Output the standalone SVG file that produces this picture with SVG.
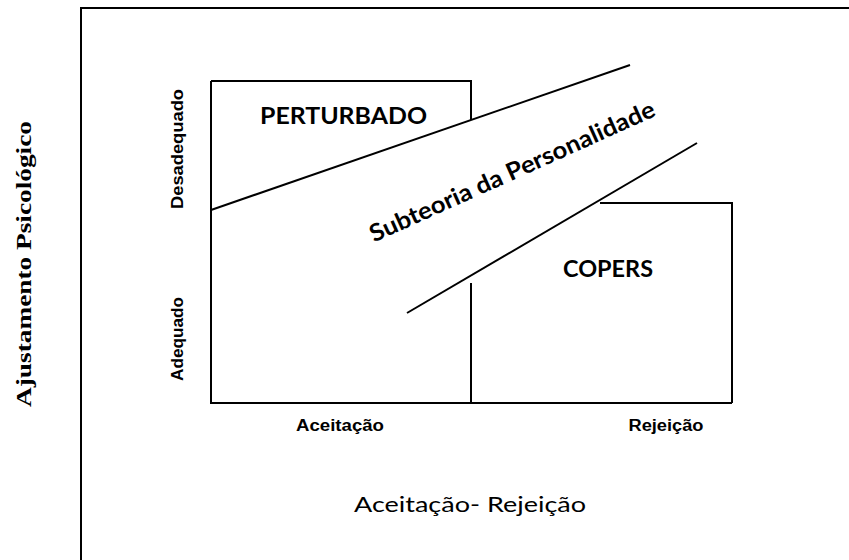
<svg xmlns="http://www.w3.org/2000/svg" width="849" height="560" viewBox="0 0 849 560">
<style>
.ln{fill:none;stroke:#000;stroke-width:2;stroke-linecap:butt;stroke-linejoin:miter}
.ax{font-family:"Liberation Sans",Arial,sans-serif;font-weight:bold;fill:#000}
.cal{font-family:Lato,"Open Sans",sans-serif;fill:#000}
.tm{font-family:"Liberation Serif","Times New Roman",serif;font-weight:bold;fill:#000}
</style>
<rect width="849" height="560" fill="#fff"/>
<g id="frame">
<path class="ln" d="M81,561 V8 H850"/>
</g>
<g id="axis-box">
<path class="ln" d="M211,81 V403 H732"/>
</g>
<g id="perturbado">
<path class="ln" d="M211,81 H471 V120"/>
<text class="cal" x="343.5" y="124" font-size="22" font-weight="bold" text-anchor="middle" textLength="167" lengthAdjust="spacingAndGlyphs">PERTURBADO</text>
</g>
<g id="copers">
<path class="ln" d="M600,203 H732 V403"/>
<path class="ln" d="M471,283 V403"/>
<text class="cal" x="608" y="277" font-size="22" font-weight="bold" text-anchor="middle" textLength="90" lengthAdjust="spacingAndGlyphs">COPERS</text>
</g>
<g id="subteoria">
<text class="cal" font-size="24" font-weight="bold" text-anchor="middle" textLength="310" lengthAdjust="spacingAndGlyphs" transform="translate(515.5,179) rotate(-24.2)">Subteoria da Personalidade</text>
</g>
<g id="connectors">
<line class="ln" x1="211" y1="210" x2="630" y2="65"/>
<line class="ln" x1="407" y1="313" x2="697" y2="143"/>
</g>
<g id="labels">
<text class="tm" font-size="20" text-anchor="middle" textLength="286" lengthAdjust="spacingAndGlyphs" transform="translate(31,264) rotate(-90)">Ajustamento Psicológico</text>
<text class="ax" font-size="17" text-anchor="middle" textLength="120" lengthAdjust="spacingAndGlyphs" transform="translate(183,149) rotate(-90)">Desadequado</text>
<text class="ax" font-size="17" text-anchor="middle" textLength="84" lengthAdjust="spacingAndGlyphs" transform="translate(183,339) rotate(-90)">Adequado</text>
<text class="ax" x="340" y="431" font-size="16" text-anchor="middle" textLength="88" lengthAdjust="spacingAndGlyphs">Aceitação</text>
<text class="ax" x="666" y="431" font-size="16" text-anchor="middle" textLength="75" lengthAdjust="spacingAndGlyphs">Rejeição</text>
<text class="cal" x="470" y="512" font-size="21" text-anchor="middle" textLength="232" lengthAdjust="spacingAndGlyphs">Aceitação- Rejeição</text>
</g>
</svg>
